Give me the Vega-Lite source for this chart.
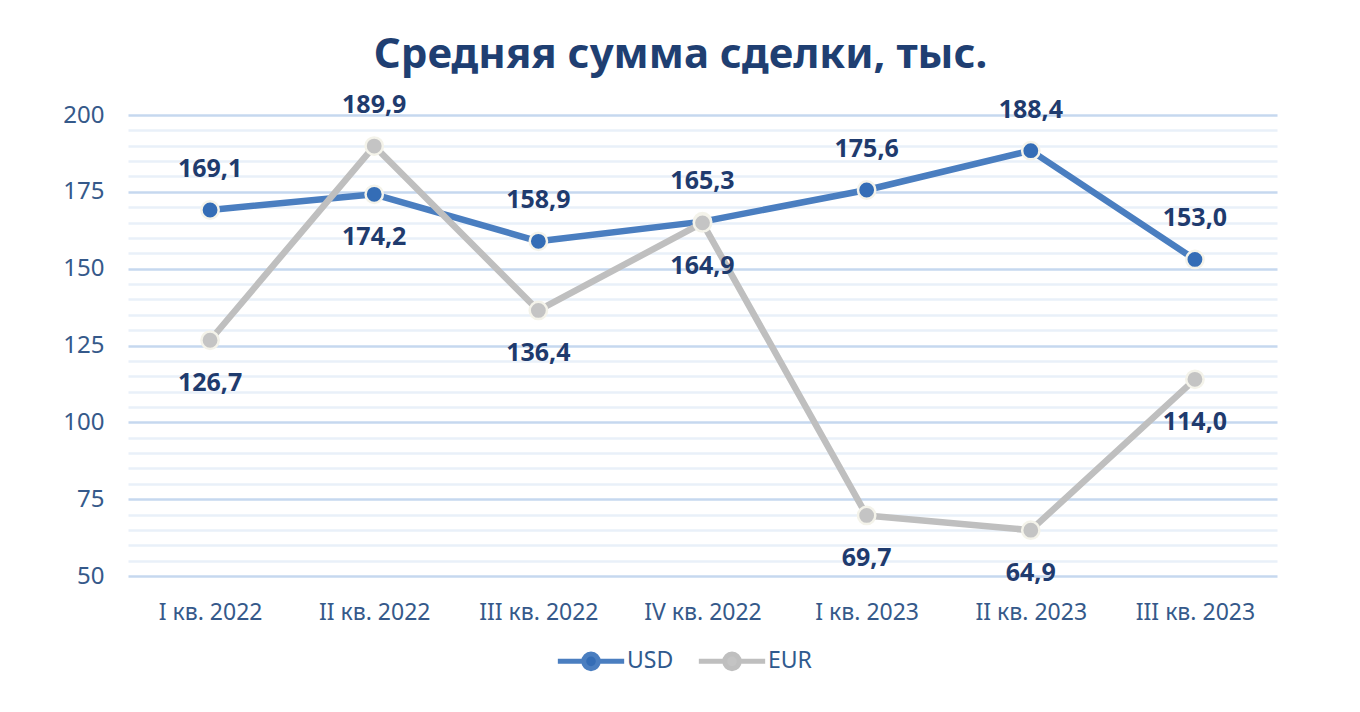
{
  "$schema": "https://vega.github.io/schema/vega-lite/v6.json",
  "autosize": "none",
  "width": 1149,
  "height": 461,
  "padding": {"left": 128, "top": 115, "right": 83, "bottom": 136},
  "background": "white",
  "title": {
    "text": "Средняя сумма сделки, тыс.",
    "font": "Noto Sans",
    "fontSize": 42,
    "fontWeight": "bold",
    "color": "#1F3F72",
    "anchor": "middle",
    "dx": -22,
    "offset": 16
  },
  "data": {
    "values": [
      {"q": "I кв. 2022", "USD": 169.1, "EUR": 126.7},
      {"q": "II кв. 2022", "USD": 174.2, "EUR": 189.9},
      {"q": "III кв. 2022", "USD": 158.9, "EUR": 136.4},
      {"q": "IV кв. 2022", "USD": 165.3, "EUR": 164.9},
      {"q": "I кв. 2023", "USD": 175.6, "EUR": 69.7},
      {"q": "II кв. 2023", "USD": 188.4, "EUR": 64.9},
      {"q": "III кв. 2023", "USD": 153.0, "EUR": 114.0}
    ]
  },
  "transform": [{"fold": ["USD", "EUR"], "as": ["cur", "value"]}],
  "encoding": {
    "x": {
      "field": "q", "type": "ordinal", "sort": null,
      "scale": {"type": "point", "padding": 0.5},
      "axis": {
        "title": null, "domain": false, "ticks": false, "grid": false,
        "orient": "bottom",
        "labelAngle": 0, "labelPadding": 25,
        "labelFont": "Noto Sans", "labelFontSize": 23, "labelColor": "#35598A"
      }
    },
    "y": {
      "field": "value", "type": "quantitative",
      "scale": {"domain": [50, 200], "nice": false, "zero": false},
      "axis": {
        "title": null, "domain": false, "ticks": false,
        "values": [50,55,60,65,70,75,80,85,90,95,100,105,110,115,120,125,130,135,140,145,150,155,160,165,170,175,180,185,190,195,200],
        "labelExpr": "datum.value % 25 == 0 ? datum.label : ''",
        "labelPadding": 24,
        "labelFont": "Noto Sans", "labelFontSize": 24, "labelColor": "#35598A",
        "gridColor": {"condition": {"test": "datum.value % 25 == 0", "value": "#C6D8EF"}, "value": "#E9F0F9"},
        "gridWidth": 2.5
      }
    }
  },
  "layer": [
    {
      "mark": {"type": "line", "strokeWidth": 6.5, "strokeCap": "round", "strokeJoin": "round"},
      "encoding": {
        "color": {
          "field": "cur", "type": "nominal",
          "scale": {"domain": ["USD", "EUR"], "range": ["#4A7EC0", "#BFBFBF"]},
          "legend": {
            "title": null,
            "orient": "none",
            "direction": "horizontal",
            "legendX": 427,
            "legendY": 510,
            "symbolType": "M-1,0L-0.22,0M0.22,0L1,0M-0.22,0A0.22,0.22,0,1,0,0.22,0A0.22,0.22,0,1,0,-0.22,0Z",
            "symbolSize": 4400,
            "symbolStrokeWidth": 5,
            "labelFont": "Noto Sans",
            "labelFontSize": 23,
            "labelColor": "#2F5A8E",
            "labelOffset": 0,
            "columnPadding": 14
          }
        }
      }
    },
    {
      "mark": {"type": "point", "filled": true, "size": 300, "strokeWidth": 2.5, "stroke": "#F4F3EA", "opacity": 1},
      "encoding": {
        "fill": {
          "field": "cur", "type": "nominal",
          "scale": {"domain": ["USD", "EUR"], "range": ["#346DB6", "#C4C4C4"]},
          "legend": null
        }
      }
    },
    {
      "transform": [{"filter": "datum.value == max(datum.USD, datum.EUR)"}],
      "mark": {"type": "text", "dy": -41, "font": "Noto Sans", "fontSize": 25, "fontWeight": "bold", "color": "#1F3B6E", "baseline": "middle"},
      "encoding": {"text": {"field": "value", "type": "quantitative", "format": ".1f"}}
    },
    {
      "transform": [{"filter": "datum.value < max(datum.USD, datum.EUR)"}],
      "mark": {"type": "text", "dy": 43, "font": "Noto Sans", "fontSize": 25, "fontWeight": "bold", "color": "#1F3B6E", "baseline": "middle"},
      "encoding": {"text": {"field": "value", "type": "quantitative", "format": ".1f"}}
    }
  ],
  "config": {
    "view": {"stroke": null},
    "locale": {"number": {"decimal": ",", "thousands": " ", "grouping": [3], "currency": ["", " ₽"]}}
  }
}
